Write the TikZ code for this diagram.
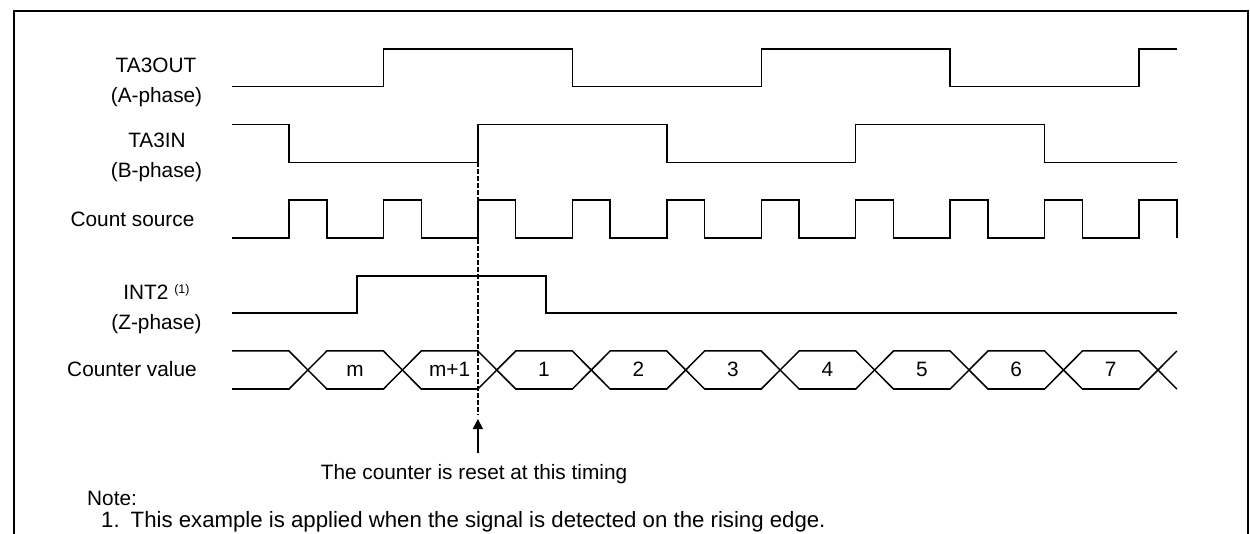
\documentclass[tikz,border=0pt]{standalone}
\usepackage{fontspec}
\setmainfont{Liberation Sans}
\usetikzlibrary{arrows.meta}
\begin{document}
\begin{tikzpicture}[x=1pt,y=-1pt,
  sig/.style={line width=1.5pt,line join=miter},
  frame/.style={line width=2pt},
  lbl/.style={inner sep=0pt,anchor=base,font=\fontsize{20.8}{25}\selectfont},
  notelbl/.style={inner sep=0pt,anchor=base west,font=\fontsize{22.2}{26}\selectfont},
  resetline/.style={line width=1.5pt,dash pattern=on 4.5pt off 2.5pt},
  resetarrow/.style={line width=1.5pt,-{Triangle[length=10pt,width=10pt]}}]
\useasboundingbox (0,0) rectangle (1250,534);
% frame
\draw[frame] (14,534) -- (14,11) -- (1247.5,11) -- (1247.5,534);
% labels
\node[lbl] (l1a) at (156,73) {TA3OUT};
\node[lbl] (l1b) at (156.5,103) {(A-phase)};
\node[lbl] (l2a) at (157,148) {TA3IN};
\node[lbl] (l2b) at (156.5,178) {(B-phase)};
\node[lbl] (l3) at (132.5,227) {Count source};
\node[lbl] (l4a) at (156.5,300) {INT2 \raisebox{6.5pt}{\fontsize{12.5}{14}\selectfont (1)}};
\node[lbl] (l4b) at (156.5,330) {(Z-phase)};
\node[lbl] (l5) at (132,377) {Counter value};
% TA3OUT
\draw[sig] (232,86.5) -- (383.45,86.5) -- (383.45,49) -- (572.35,49) -- (572.35,86.5)
  -- (761.25,86.5) -- (761.25,49) -- (950.15,49) -- (950.15,86.5)
  -- (1139.05,86.5) -- (1139.05,49) -- (1177,49);
% TA3IN
\draw[sig] (232,124.5) -- (289,124.5) -- (289,162.3) -- (477.9,162.3) -- (477.9,124.5)
  -- (666.8,124.5) -- (666.8,162.3) -- (855.7,162.3) -- (855.7,124.5)
  -- (1044.6,124.5) -- (1044.6,162.3) -- (1177,162.3);
% Count source
\draw[sig] (232,238) foreach \k in {0,...,9} {
  -- ({289+94.45*\k},238) -- ({289+94.45*\k},200)
  -- ({289+94.45*\k+37.8},200) -- ({289+94.45*\k+37.8},238) };
% INT2
\draw[sig] (232,313) -- (357,313) -- (357,275.8) -- (546,275.8) -- (546,313) -- (1177,313);
% Counter value bus
\draw[sig] (232,351) -- (289,351) -- (307.9,370) -- (289,389) -- (232,389);
\foreach \k in {0,...,8} {
  \draw[sig] ({289+94.45*\k+18.9},370) -- ({289+94.45*\k+37.8},351)
    -- ({289+94.45*(\k+1)},351) -- ({289+94.45*(\k+1)+18.9},370)
    -- ({289+94.45*(\k+1)},389) -- ({289+94.45*\k+37.8},389) -- cycle;
}
\draw[sig] (1176.85,351) -- (1157.95,370) -- (1176.85,389);
\foreach \k/\t in {0/m,1/m+1,2/1,3/2,4/3,5/4,6/5,7/6,8/7} {
  \node[lbl] (v\k) at ({289+94.45*\k+66.1},377) {\t};
}
% reset marker
\coordinate (r1) at (477.9,162.3);
\coordinate (r2) at (477.9,415);
\draw[resetline] (r1) -- (r2);
\coordinate (a1) at (477.9,453);
\coordinate (a2) at (477.9,419);
\draw[resetarrow] (a1) -- (a2);
\node[lbl] (reset) at (474,479) {The counter is reset at this timing};
% note
\node[lbl,anchor=base west] (note) at (87,505) {Note:};
\node[notelbl] (item) at (101,527.5) {1.\hspace*{11pt}This example is applied when the signal is detected on the rising edge.};
\end{tikzpicture}
\end{document}
